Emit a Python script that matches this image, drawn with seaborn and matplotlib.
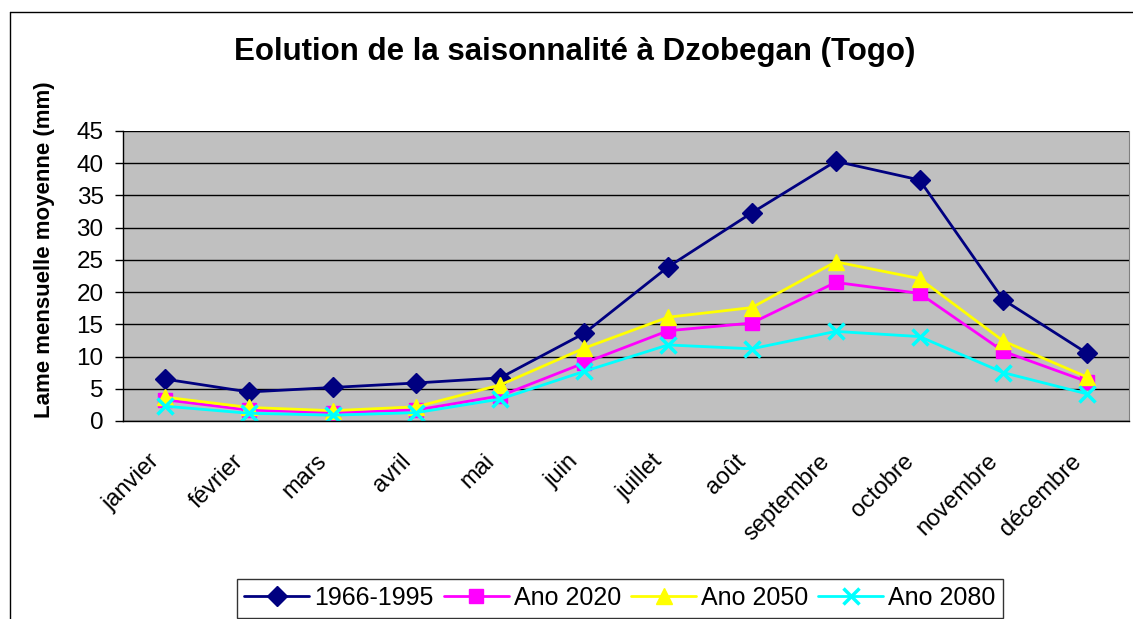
import pandas as pd
import matplotlib.pyplot as plt
import matplotlib.transforms as mtransforms
import seaborn as sns
from matplotlib.lines import Line2D

mois = ["janvier", "février", "mars", "avril", "mai", "juin", "juillet",
        "août", "septembre", "octobre", "novembre", "décembre"]
ref_1966_1995 = [6.5, 4.5, 5.2, 5.9, 6.7, 13.6, 23.9, 32.3, 40.3, 37.4, 18.8, 10.5]
ano_2020 = [3.3, 1.7, 1.3, 1.7, 3.9, 9.0, 14.0, 15.2, 21.5, 19.8, 10.8, 6.1]
ano_2050 = [3.7, 2.1, 1.6, 2.2, 5.6, 11.3, 16.1, 17.6, 24.7, 22.1, 12.4, 6.8]
ano_2080 = [2.3, 1.2, 0.9, 1.3, 3.4, 7.7, 11.8, 11.2, 13.9, 13.1, 7.5, 4.2]

series = {
    "1966-1995": (ref_1966_1995, "#000080", "D", 10),
    "Ano 2020": (ano_2020, "#FF00FF", "s", 10),
    "Ano 2050": (ano_2050, "#FFFF00", "^", 12),
    "Ano 2080": (ano_2080, "#00FFFF", "x", 11),
}

sns.set_style("white")
plt.rcParams["font.family"] = ["Liberation Sans", "DejaVu Sans"]
for k in ["text.color", "axes.labelcolor", "xtick.color", "ytick.color"]:
    plt.rcParams[k] = "black"

fig = plt.figure(figsize=(11.33, 6.19), dpi=100)
ax = fig.add_axes([0.1086, 0.3199, 0.888, 0.4685])
ax.set_facecolor("#C0C0C0")

x = list(range(len(mois)))
handles = []
for name, (vals, col, mk, ms) in series.items():
    mew = 2.5 if mk == "x" else 1
    sns.lineplot(x=x, y=vals, ax=ax, color=col, marker=mk, markersize=ms,
                 markeredgecolor=col, markeredgewidth=mew, linewidth=2)
    handles.append(Line2D([], [], color=col, marker=mk, markersize=ms,
                          markeredgecolor=col, markeredgewidth=mew,
                          linewidth=2, label=name))

ax.set_xlim(-0.5, 11.5)
ax.set_ylim(0, 45)
ax.set_yticks(range(0, 46, 5))
ax.yaxis.grid(True, color="black", linewidth=1)
ax.set_axisbelow(True)
ax.set_xticks(x)
ax.set_xticklabels(mois, rotation=45, ha="right", rotation_mode="anchor")
ax.set_xticks([i + 0.5 for i in range(-1, 12)], minor=True)
ax.tick_params(axis="x", which="major", length=0, labelsize=17, pad=21)
ax.tick_params(axis="x", which="minor", length=7, width=1, color="black")
ax.tick_params(axis="y", which="major", length=6, width=1, color="black",
               labelsize=17.5, left=True, pad=8)
shift = mtransforms.ScaledTranslation(-17 / 100, 0, fig.dpi_scale_trans)
for lab in ax.get_xticklabels():
    lab.set_transform(lab.get_transform() + shift)
for s in ["left", "bottom"]:
    ax.spines[s].set_color("black")
    ax.spines[s].set_linewidth(1)
ax.spines["top"].set_visible(False)
ax.spines["right"].set_color("#808080")
ax.set_xlabel("")
ax.set_ylabel("")

fig.text(575 / 1133, 1 - 52 / 619, "Eolution de la saisonnalité à Dzobegan (Togo)",
         ha="center", va="center", fontsize=22.5, fontweight="bold")
fig.text(45 / 1133, 1 - 250 / 619, "Lame mensuelle moyenne (mm)", rotation=90,
         ha="center", va="center", fontsize=16, fontweight="bold")

leg = fig.legend(handles=handles, loc="center", bbox_to_anchor=(620 / 1133, 1 - 598 / 619),
                 ncol=4, frameon=True, fancybox=False, fontsize=18,
                 handlelength=2.6, columnspacing=0.4, handletextpad=0.2,
                 borderpad=0.3, borderaxespad=0)
leg.get_frame().set_edgecolor("black")
leg.get_frame().set_linewidth(1)

# outer chart border
fig.add_artist(Line2D([10 / 1133, 10 / 1133], [0, 1 - 12 / 619], color="black",
                      linewidth=1, transform=fig.transFigure))
fig.add_artist(Line2D([10 / 1133, 1], [1 - 12 / 619, 1 - 12 / 619], color="black",
                      linewidth=1, transform=fig.transFigure))

fig.savefig("out.png", dpi=100)
